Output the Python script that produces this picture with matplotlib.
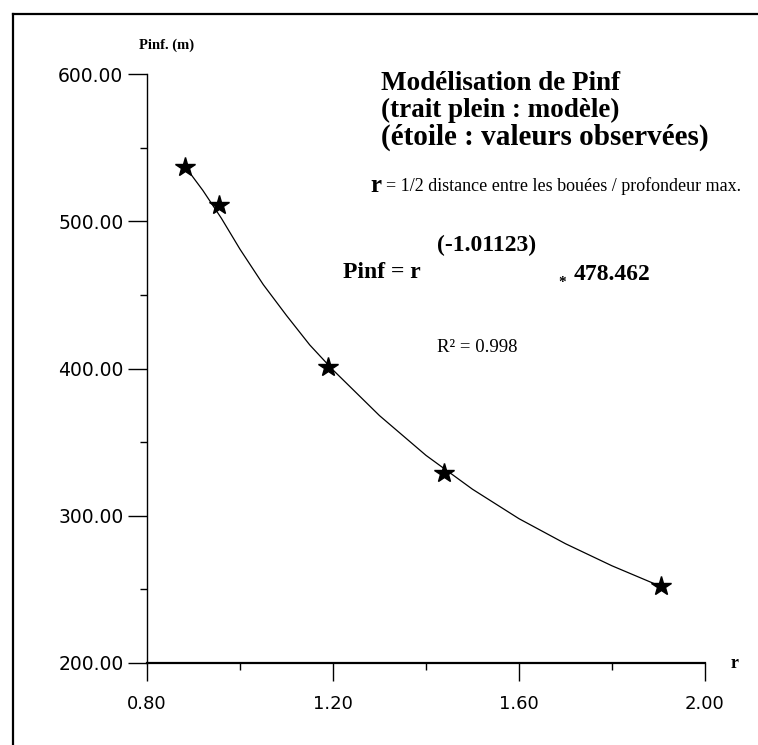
import matplotlib.pyplot as plt
from matplotlib.lines import Line2D
from matplotlib.ticker import MultipleLocator

# observed values (stars)
r_obs = [0.882, 0.955, 1.189, 1.439, 1.905]
pinf_obs = [537, 511, 401, 329, 252]

# model curve
r_curve = [0.88, 0.92, 0.96, 1.00, 1.05, 1.10, 1.15, 1.20, 1.30, 1.40,
           1.50, 1.60, 1.70, 1.80, 1.905]
pinf_curve = [538, 521, 502, 481, 457, 436, 416, 399, 368, 341,
              318, 298, 281, 266, 252]

x_ticks = [0.80, 1.20, 1.60, 2.00]
y_ticks = [200, 300, 400, 500, 600]

W, H = 758, 745
serif = 'Liberation Serif'
sans = 'DejaVu Sans'

fig = plt.figure(figsize=(W / 100, H / 100), dpi=100)

def fx(px):
    return px / W

def fy(py):
    return 1 - py / H

# scanned frame (top and left edges only)
fig.add_artist(Line2D([fx(13), fx(758)], [fy(14), fy(14)], color='black', lw=1.6))
fig.add_artist(Line2D([fx(13), fx(13)], [fy(14), fy(745)], color='black', lw=1.6))

ax = fig.add_axes([fx(147), fy(663), fx(705) - fx(147), fy(74) - fy(663)])
ax.plot(r_curve, pinf_curve, color='black', lw=0.9)
ax.plot(r_obs, pinf_obs, linestyle='none', marker='*', markersize=15, color='black')

ax.set_xlim(0.80, 2.00)
ax.set_ylim(200, 600)
ax.set_xticks(x_ticks)
ax.set_yticks(y_ticks)
ax.xaxis.set_minor_locator(MultipleLocator(0.2))
ax.yaxis.set_minor_locator(MultipleLocator(50))
ax.set_xticklabels(['%.2f' % v for v in x_ticks], fontfamily=sans, fontsize=13)
ax.set_yticklabels(['%.2f' % v for v in y_ticks], fontfamily=sans, fontsize=13.5)
ax.tick_params(axis='x', which='major', direction='out', length=13, width=1, pad=10)
ax.tick_params(axis='y', which='major', direction='out', length=14, width=1, pad=3)
ax.tick_params(which='minor', direction='out', length=5, width=1)

for s in ['top', 'right']:
    ax.spines[s].set_visible(False)
ax.spines['left'].set_linewidth(1.0)
ax.spines['bottom'].set_linewidth(1.6)

# axis names
fig.text(fx(167), fy(45), 'Pinf. (m)', family=serif, weight='bold', fontsize=10.5, ha='center', va='center')
fig.text(fx(735), fy(663), 'r', family=serif, weight='bold', fontsize=13, ha='center', va='center')

# title block
fig.text(fx(381), fy(83), 'Modélisation de Pinf', family=serif, weight='bold', fontsize=19.5, ha='left', va='center')
fig.text(fx(381), fy(110), '(trait plein : modèle)', family=serif, weight='bold', fontsize=19.5, ha='left', va='center')
fig.text(fx(381), fy(137), '(étoile : valeurs observées)', family=serif, weight='bold', fontsize=21, ha='left', va='center')
fig.text(fx(370), fy(185), 'r', family=serif, weight='bold', fontsize=18, ha='left', va='center')
fig.text(fx(386), fy(186), '= 1/2 distance entre les bouées / profondeur max.', family=serif, fontsize=13,
         ha='left', va='center')

# model equation
fig.text(fx(343), fy(272), 'Pinf = r', family=serif, weight='bold', fontsize=17, ha='left', va='center')
fig.text(fx(437), fy(245), '(-1.01123)', family=serif, weight='bold', fontsize=17, ha='left', va='center')
fig.text(fx(562), fy(282), '*', family=serif, weight='bold', fontsize=11, ha='center', va='center')
fig.text(fx(574), fy(275), '478.462', family=serif, weight='bold', fontsize=17, ha='left', va='center')
fig.text(fx(437), fy(348), 'R² = 0.998', family=serif, fontsize=13.5, ha='left', va='center')

fig.savefig('out.png', dpi=100)
